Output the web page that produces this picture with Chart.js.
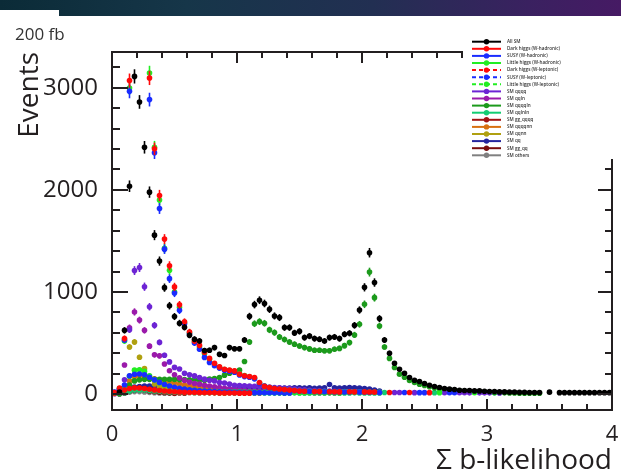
<!DOCTYPE html>
<html>
<head>
<meta charset="utf-8">
<script src="https://cdn.jsdelivr.net/npm/chart.js@4.4.0/dist/chart.umd.min.js"></script>
<style>
  body { margin: 0; background: #fff; }
  #wrap { position: relative; width: 621px; height: 475px; overflow: hidden; }
  #band { position: absolute; left: 0; top: 0; width: 621px; height: 16px; z-index: 2;
          background: linear-gradient(90deg, #0b2b37 0%, #163649 30%, #222f52 60%, #3a2160 85%, #461a64 100%); }
  #notch { position: absolute; left: 0; top: 10px; width: 59px; height: 6px; background: #fff; z-index: 3; }
  #lumi { position: absolute; left: 15px; top: 25px; font: 17px "Open Sans"; line-height: 17px; color: #333; z-index: 2; }
  canvas { position: absolute; left: 0; top: 0; }
</style>
</head>
<body>
<div id="wrap">
  <div id="band"></div>
  <div id="notch"></div>
  <div id="lumi">200 fb</div>
  <canvas id="graficoBlike" width="621" height="475"></canvas>
</div>
<script>
// bin centres, 0.04 wide bins from 0 to 4
var binCenters = [0.02, 0.06, 0.10, 0.14, 0.18, 0.22, 0.26, 0.30, 0.34, 0.38,
  0.42, 0.46, 0.50, 0.54, 0.58, 0.62, 0.66, 0.70, 0.74, 0.78,
  0.82, 0.86, 0.90, 0.94, 0.98, 1.02, 1.06, 1.10, 1.14, 1.18,
  1.22, 1.26, 1.30, 1.34, 1.38, 1.42, 1.46, 1.50, 1.54, 1.58,
  1.62, 1.66, 1.70, 1.74, 1.78, 1.82, 1.86, 1.90, 1.94, 1.98,
  2.02, 2.06, 2.10, 2.14, 2.18, 2.22, 2.26, 2.30, 2.34, 2.38,
  2.42, 2.46, 2.50, 2.54, 2.58, 2.62, 2.66, 2.70, 2.74, 2.78,
  2.82, 2.86, 2.90, 2.94, 2.98, 3.02, 3.06, 3.10, 3.14, 3.18,
  3.22, 3.26, 3.30, 3.34, 3.38, 3.42, 3.46, 3.50, 3.54, 3.58,
  3.62, 3.66, 3.70, 3.74, 3.78, 3.82, 3.86, 3.90, 3.94, 3.98];

var xTickValues = [0, 1, 2, 3, 4];
var yTickValues = [0, 1000, 2000, 3000];

var allSM = [null, 20, 625, 2036, 3111, 2861, 2417, 1978, 1557, 1303,
  1043, 866, 760, 695, 655, 577, 538, 521, 427, 430,
  456, 390, 378, 456, 445, 445, 531, 762, 877, 920,
  888, 831, 766, 750, 652, 652, 600, 615, 554, 568,
  544, 538, 521, 554, 560, 544, 587, 596, 674, 824,
  1046, 1385, 1093, 740, 531, 401, 303, 244, 205, 163,
  137, 124, 105, 88, 75, 65, 56, 49, 46, 39,
  36, 36, 32, 32, 29, 26, 26, 22, 22, 20,
  20, 18, 18, 17, 17, 17, null, 20, null, 15,
  15, 15, 15, 15, 15, 15, 15, 15, 15, 15];

var darkHiggsHad = [15, 60, 545, 3070, 3700, 3900, 3600, 3096, 2402, 1945,
  1518, 1257, 1050, 875, 709, 609, 520, 478, 410, 350,
  303, 267, 244, 235, 228, 196, 180, 173, 163, 114,
  78, 65, 56, 50, 46, 40, 36, 30, 27, null,
  26, 25, null, 24, 24, 22, null, 23, 22, null,
  22, 21, 20, null, null, 16, null, null, null, 16,
  null, null, null, 15];

var susyHad = [20, 50, 530, 2965, 3650, 3800, 3550, 2884, 2363, 1818,
  1420, 1131, 990, 821, 690, 590, 500, 440, 360, 310,
  278, 255, 235, 225, 215, 188, 172, 165, 150, 105,
  80, 62, 55, 48, 43, 38, 34, 29, 27, 26,
  25, 24, 24, 23, 22, 22, 21, 21, null, 20,
  20, 19, null, 17, null, null, null, null, 16, null,
  null, 15, 15, null, null, null, null, 14, 14];

var littleHiggsHad = [15, 55, 521, 2998, 3750, 3950, 3650, 3145, 2418, 1900,
  1427, 1212, 1000, 850, 700, 600, 510, 462, 395, 340,
  295, 262, 240, 232, 225, 200, 182, 170, 155, 110,
  80, 64, 55, 48, 44, 40, 35, 30, 28, 27,
  26, 25, 25, 24, 23, 23, 22, 22, 21, 21,
  20, 20, 19, 18, null, null, null, null, null, null,
  null, null, null, null, null, 15, null, null, null, null,
  null, null, 14];

var darkHiggsLep = [8, 25, 40, 55, 62, 60, 55, 48, 42, 36,
  31, 27, 24, 21, 19, 17, 16, 15, 14, 13,
  13, 12, 12, 11, 11, 10, 10, 10];

var susyLep = [15, 45, 90, 180, 195, 198, 190, 165, 140, 115,
  95, 80, 68, 58, 50, 43, 38, 33, 30, 27,
  25, 23, 21, 20, 19, 18, 17, 16, 15, 15,
  14, 14, 13, 13, 12, 12];

var littleHiggsLep = [12, 30, 65, 175, 235, 238, 225, 180, 140, 112,
  92, 78, 66, 56, 48, 42, 37, 33, 30, 28,
  26, 25, 24, 23, 22, 22, 21, 20, 20, 19,
  19, 18, 18, 17, 17, 16, 16, 15, 15, 14,
  14, 14, 13, 13, 13, 12];

var smQqqq = [5, 40, 140, 630, 1210, 1240, 1052, 856, 674, 507,
  381, 316, 262, 247, 205, 189, 179, 163, 147, 137,
  130, 114, 110, 98, 88, 85, 82, 80, 76, 75,
  72, 70, 66, 62, 58, 54, 50, 46, 42, 38,
  35, 33, 31, 30, 28, 27, 26, 25, 24, 22,
  21, 20, 19, 18, null, null, 16, 16, null, null,
  15, null, null, null, null, null, 14, null, null, 14,
  14, 13, null, 13, 13, 13, null, 12];

var smQqln = [null, 20, 285, 650, 805, 725, 625, 470, 385, 375,
  295, 230, 190, 160, 135, 118, 105, 98, 88, 80,
  72, 65, 58, 52, 47, 42, 38, 34, 31, 29,
  27, 25, 24, 23, 22, 21, 20, 19, 18, 18,
  17, 17, 16, 16, 15, 15];

var smQqqqln = [null, 10, 40, 90, 130, 140, 145, 145, 145, 145,
  145, 145, 145, 142, 142, 140, 140, 138, 137, 147,
  153, 163, 186, 205, 218, 235, 320, 511, 690, 710,
  694, 629, 603, 560, 535, 511, 489, 472, 456, 443,
  430, 430, 425, 425, 440, 448, 475, 505, 580, 684,
  880, 1195, 945, 668, 462, 350, 261, 196, 165, 135,
  115, 98, 85, 72, 62, 54, 47, 42, 38, 34,
  30, 27, 25, 22, 20, 18, 16, 14, 13, 12,
  11, 10, 10, 10, 10, 10];

var smQqlnln = [null, 5, 15, 30, 40, 42, 40, 36, 32, 28,
  25, 22, 20, 18, 17, 16, 15, 15, 14, 14,
  14, 13, 13, 13, 12, 12, 12, 11, 12, 13,
  12, 11, 12, 12, 10, 12, 13, 11, 12, 12,
  11, 12, 12, 13, 12, 11, 12, 12, 13, 12,
  12, 11, 12, 12, 16, null, null, null, null, null,
  null, null, null, null, 15, null, null, null, null, null,
  null, null, null, null, null, null, 13];

var smGgQqqq = [null, 5, 20, 40, 55, 60, 55, 45, 35, 28, 22, 18, 15, 12, 10];

var smQqqqnn = [null, 15, 60, 130, 170, 180, 172, 160, 150, 140,
  130, 120, 110, 100, 90, 80, 70, 62, 55, 48,
  42, 36, 30, 26, 22, 19, 16, 14, 12, 10];

var smQqnn = [null, 10, 60, 462, 511, 362, 250, 150, 100, 75,
  60, 50, 40, 35, 30, 25, 22, 20, 18, 16, 14, 12, 10];

var smQq = [null, 15, 40, 60, 70, 75, 80, 80, 75, 70,
  65, 60, 55, 50, 45, 42, 40, 38, 37, 37,
  38, 40, 42, 45, 48, 50, 52, 55, 55, 56,
  57, 58, 58, 60, 60, 60, 62, 62, 60, 62,
  58, 60, 62, 95, 62, 60, 62, 65, 62, 60,
  55, 50, 40, 30];

var smGgQq = [null, 4, 15, 30, 40, 45, 40, 32, 25, 20, 16, 13, 10];

var smOthers = [null, 3, 10, 20, 25, 25, 22, 18, 15, 12, 10, 9, 8];

var seriesNames = ['All SM', 'Dark higgs (W-hadronic)', 'SUSY (W-hadronic)', 'Little higgs (W-hadronic)',
  'Dark higgs (W-leptonic)', 'SUSY (W-leptonic)', 'Little higgs (W-leptonic)',
  'SM qqqq', 'SM qqln', 'SM qqqqln', 'SM qqlnln', 'SM gg_qqqq', 'SM qqqqnn', 'SM qqnn',
  'SM qq', 'SM gg_qq', 'SM others'];
var seriesValues = [allSM, darkHiggsHad, susyHad, littleHiggsHad, darkHiggsLep, susyLep, littleHiggsLep,
  smQqqq, smQqln, smQqqqln, smQqlnln, smGgQqqq, smQqqqnn, smQqnn, smQq, smGgQq, smOthers];
var seriesColors = ['#000000', '#ff0a0a', '#1a2cff', '#22ee22', '#ff0a0a', '#1a2cff', '#22ee22',
  '#6d24d4', '#9b1aaa', '#1c9a1c', '#12cc72', '#a01212', '#d87010', '#b0a010',
  '#25259e', '#780c0c', '#808080'];
var dashedSeries = [false, false, false, false, true, true, true,
  false, false, false, false, false, false, false, false, false, false];

var textColor = '#231f20';
var errScale = 1.25;

function toPoints(values) {
  return values.map(function(v, i) {
    return {x: binCenters[i], y: v};
  });
}

// vertical error bars, drawn right after each dataset
var errorBars = {
  id: 'errorBars',
  afterDatasetDraw: function(chart, args) {
    var ds = chart.data.datasets[args.index];
    var ys = chart.scales.y;
    var a = chart.chartArea;
    var ctx = chart.ctx;
    ctx.save();
    ctx.beginPath();
    ctx.rect(a.left, a.top, a.right - a.left, a.bottom - a.top);
    ctx.clip();
    ctx.strokeStyle = ds.backgroundColor;
    ctx.lineWidth = 1.6;
    args.meta.data.forEach(function(pt, i) {
      var v = ds.data[i].y;
      if (v === null || isNaN(pt.x)) return;
      var e = errScale * Math.sqrt(v);
      ctx.beginPath();
      ctx.moveTo(pt.x, ys.getPixelForValue(v - e));
      ctx.lineTo(pt.x, ys.getPixelForValue(v + e));
      ctx.stroke();
    });
    ctx.restore();
  }
};

// box frame with inward ticks on all four sides
var frame = {
  id: 'frame',
  afterDatasetsDraw: function(chart) {
    var ctx = chart.ctx, a = chart.chartArea;
    var xs = chart.scales.x, ys = chart.scales.y;
    ctx.save();
    ctx.strokeStyle = textColor;
    ctx.lineWidth = 2;
    ctx.strokeRect(a.left, a.top, a.right - a.left, a.bottom - a.top);
    ctx.beginPath();
    for (var k = 0; k <= 20; k++) {
      var px = Math.round(xs.getPixelForValue(k * 0.2));
      var len = (k % 5 === 0) ? 11 : 6;
      ctx.moveTo(px, a.bottom); ctx.lineTo(px, a.bottom - len);
      ctx.moveTo(px, a.top); ctx.lineTo(px, a.top + len);
    }
    for (var m = 0; m * 200 <= ys.max; m++) {
      var py = Math.round(ys.getPixelForValue(m * 200));
      var major = (m % 5 === 0);
      ctx.moveTo(a.left, py); ctx.lineTo(a.left + (major ? 16 : 8), py);
      ctx.moveTo(a.right, py); ctx.lineTo(a.right - (major ? 14 : 7), py);
    }
    ctx.stroke();
    ctx.restore();
  }
};

// ROOT style legend box in the top right corner
var rootLegend = {
  id: 'rootLegend',
  afterDraw: function(chart) {
    var ctx = chart.ctx;
    ctx.save();
    ctx.fillStyle = '#fff';
    ctx.fillRect(463, 34, 158, 125);
    chart.data.datasets.forEach(function(ds, k) {
      var y = 41.7 + 7.1 * k;
      ctx.strokeStyle = ds.backgroundColor;
      ctx.lineWidth = 2;
      ctx.setLineDash(ds.dashed ? [4, 3] : []);
      ctx.beginPath();
      ctx.moveTo(472, y);
      ctx.lineTo(501, y);
      ctx.stroke();
      ctx.setLineDash([]);
      ctx.fillStyle = ds.backgroundColor;
      ctx.beginPath();
      ctx.arc(486.5, y, 2.7, 0, Math.PI * 2);
      ctx.fill();
      ctx.fillStyle = '#333';
      ctx.font = '600 4.6px "Open Sans"';
      ctx.textBaseline = 'middle';
      ctx.fillText(ds.label, 507, y);
    });
    ctx.restore();
  }
};

function printGrafico() {
  var datasets = seriesValues.map(function(values, k) {
    return {
      label: seriesNames[k],
      data: toPoints(values),
      backgroundColor: seriesColors[k],
      borderColor: seriesColors[k],
      pointRadius: 2.8,
      pointBorderWidth: 0,
      pointHoverRadius: 2.8,
      dashed: dashedSeries[k],
      clip: 0
    };
  });

  new Chart(document.getElementById('graficoBlike'), {
    type: 'scatter',
    data: { datasets: datasets },
    options: {
      responsive: false,
      animation: false,
      events: [],
      layout: { padding: { left: 8, top: 52, right: 9, bottom: 0 } },
      plugins: { legend: { display: false }, tooltip: { enabled: false } },
      scales: {
        x: {
          type: 'linear', min: 0, max: 4,
          grid: { display: false, drawTicks: false },
          border: { display: false },
          afterBuildTicks: function(s) { s.ticks = xTickValues.map(function(v) { return {value: v}; }); },
          afterFit: function(s) { s.height = 65; s.paddingLeft = 0; s.paddingRight = 0; },
          ticks: { padding: 12, color: textColor, font: { family: 'Open Sans', size: 22 },
                   maxRotation: 0, callback: function(v) { return String(v); } },
          title: { display: true, text: 'Σ b-likelihood', align: 'end', color: textColor,
                   font: { family: 'Open Sans', size: 28, lineHeight: 1 }, padding: { top: 0, bottom: 0 } }
        },
        y: {
          type: 'linear', min: -155, max: 3350,
          grid: { display: false, drawTicks: false },
          border: { display: false },
          afterBuildTicks: function(s) { s.ticks = yTickValues.map(function(v) { return {value: v}; }); },
          afterFit: function(s) { s.width = 104; s.paddingTop = 0; s.paddingBottom = 0; },
          ticks: { padding: 14, color: textColor, font: { family: 'Open Sans', size: 24 },
                   callback: function(v) { return String(v); } },
          title: { display: true, text: 'Events', align: 'end', color: textColor,
                   font: { family: 'Open Sans', size: 28 }, padding: { top: 5, bottom: 0 } }
        }
      }
    },
    plugins: [errorBars, frame, rootLegend]
  });
}

printGrafico();
</script>
</body>
</html>
